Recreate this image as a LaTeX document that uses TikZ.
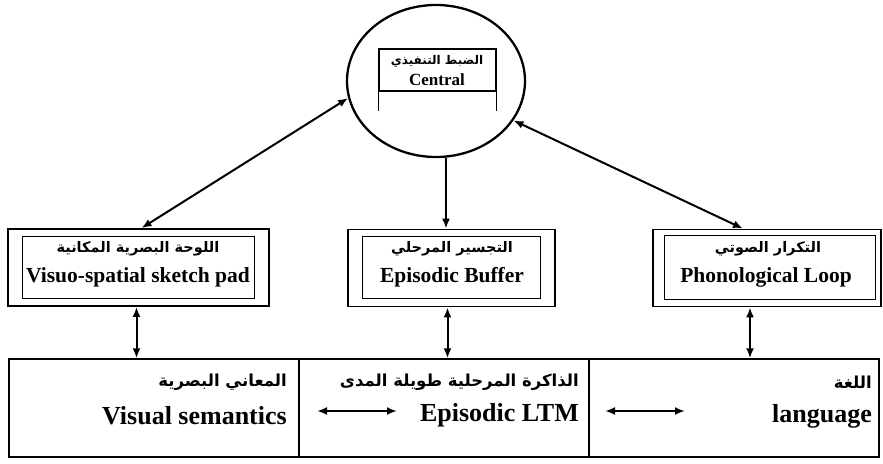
\documentclass[tikz,border=0pt]{standalone}
\usepackage{fontspec}
\setmainfont{Liberation Serif}
\newfontfamily\arabicfont[Script=Arabic]{DejaVu Sans}
\TeXXeTstate=1
\usetikzlibrary{
    arrows.meta,
    positioning,
    shapes.geometric
}

\begin{document}
\begin{tikzpicture}[
    x=1pt, y=-1pt,
    outerbox/.style={
        draw,
        line width=1.8pt,
        minimum width=#1,
        minimum height=77pt,
        inner sep=0pt
    },
    cell/.style={
        draw,
        line width=1.4pt,
        minimum width=290pt,
        minimum height=98pt,
        inner sep=0pt
    },
    en/.style={font=\bfseries\fontsize{21.5}{24}\selectfont, inner sep=0pt},
    enbig/.style={font=\bfseries\fontsize{26}{30}\selectfont, inner sep=0pt},
    ar/.style={font=\arabicfont\bfseries\fontsize{14.5}{17}\selectfont, inner sep=0pt},
    arbig/.style={font=\arabicfont\bfseries\fontsize{16.5}{19}\selectfont, inner sep=0pt},
    arrow/.style={{Latex[length=10pt,width=8pt]}-{Latex[length=10pt,width=8pt]}, line width=2pt},
    downarrow/.style={-{Latex[length=10pt,width=8pt]}, line width=2pt}
]
\useasboundingbox (0,0) rectangle (883,463);

% central executive
\node[draw, ellipse, line width=2.3pt, minimum width=178pt, minimum height=152pt] (ctrl) at (436,81) {};
\node[draw, line width=1.1pt, minimum width=117pt, minimum height=42pt, inner sep=0pt] (ctrlbox) at (437.5,70) {};
\draw[line width=1.1pt] (ctrlbox.south west) -- ++(0,19);
\draw[line width=1.1pt] (ctrlbox.south east) -- ++(0,19);
\node[ar, font=\arabicfont\bfseries\fontsize{12}{14}\selectfont] (ctrlA) at (437,61) {\beginR الضبط التنفيذي\endR};
\node[font=\bfseries\fontsize{17}{19}\selectfont, inner sep=0pt] (ctrlE) at (437,80) {Central};

% subsystems
\node[outerbox=261pt] (vsp) at (138.5,267.5) {};
\node[outerbox=207pt] (eb) at (451.5,268) {};
\node[outerbox=228pt] (pl) at (767,268) {};

\draw[line width=1pt] ([xshift=15pt,yshift=-8pt]vsp.north west) rectangle ([xshift=-15pt,yshift=8pt]vsp.south east);
\draw[line width=1pt] ([xshift=15pt,yshift=-8pt]eb.north west) rectangle ([xshift=-15pt,yshift=9pt]eb.south east);
\draw[line width=1pt] ([xshift=12pt,yshift=-7pt]pl.north west) rectangle ([xshift=-6pt,yshift=8pt]pl.south east);

\node[ar] (vspA) at (138,249) {\beginR اللوحة البصرية المكانية\endR};
\node[en] (vspE) at (138,277) {Visuo-spatial sketch pad};
\node[ar] (ebA) at (452,249) {\beginR التجسير المرحلي\endR};
\node[en] (ebE) at (452,277) {Episodic Buffer};
\node[ar] (plA) at (768,249) {\beginR التكرار الصوتي\endR};
\node[en] (plE) at (766,277) {Phonological Loop};

% long-term stores
\node[cell] (vis) at (154,408) {};
\node[cell] (ltm) at (444,408) {};
\node[cell] (lang) at (734,408) {};

\node[arbig, anchor=east] (visA) at (287,382) {\beginR المعاني البصرية\endR};
\node[enbig, anchor=east] (visE) at (287,416) {Visual semantics};
\node[arbig, anchor=east] (ltmA) at (579,382) {\beginR الذاكرة المرحلية طويلة المدى\endR};
\node[enbig, anchor=east] (ltmE) at (579,415) {Episodic LTM};
\node[arbig, anchor=east] (langA) at (872,382) {\beginR اللغة\endR};
\node[enbig, anchor=east] (langE) at (872,416) {language};

% links
\draw[arrow] (ctrl.191) -- ([xshift=3pt]vsp.north);
\draw[arrow] (ctrl.333) -- ([xshift=-24pt]pl.north);
\draw[downarrow] ([xshift=10pt]ctrl.south) -- ([xshift=10pt]ctrl.south |- eb.north);

\draw[arrow] ([xshift=-2pt]vsp.south) -- ([xshift=-2pt]vsp.south |- vis.north);
\draw[arrow] ([xshift=-4pt]eb.south) -- ([xshift=-4pt]eb.south |- ltm.north);
\draw[arrow] ([xshift=-17pt]pl.south) -- ([xshift=-17pt]pl.south |- lang.north);

\coordinate (h1l) at (317,411);
\coordinate (h1r) at (397,411);
\coordinate (h2l) at (605,411);
\coordinate (h2r) at (685,411);
\draw[arrow] (h1l) -- (h1r);
\draw[arrow] (h2l) -- (h2r);

\end{tikzpicture}
\end{document}
